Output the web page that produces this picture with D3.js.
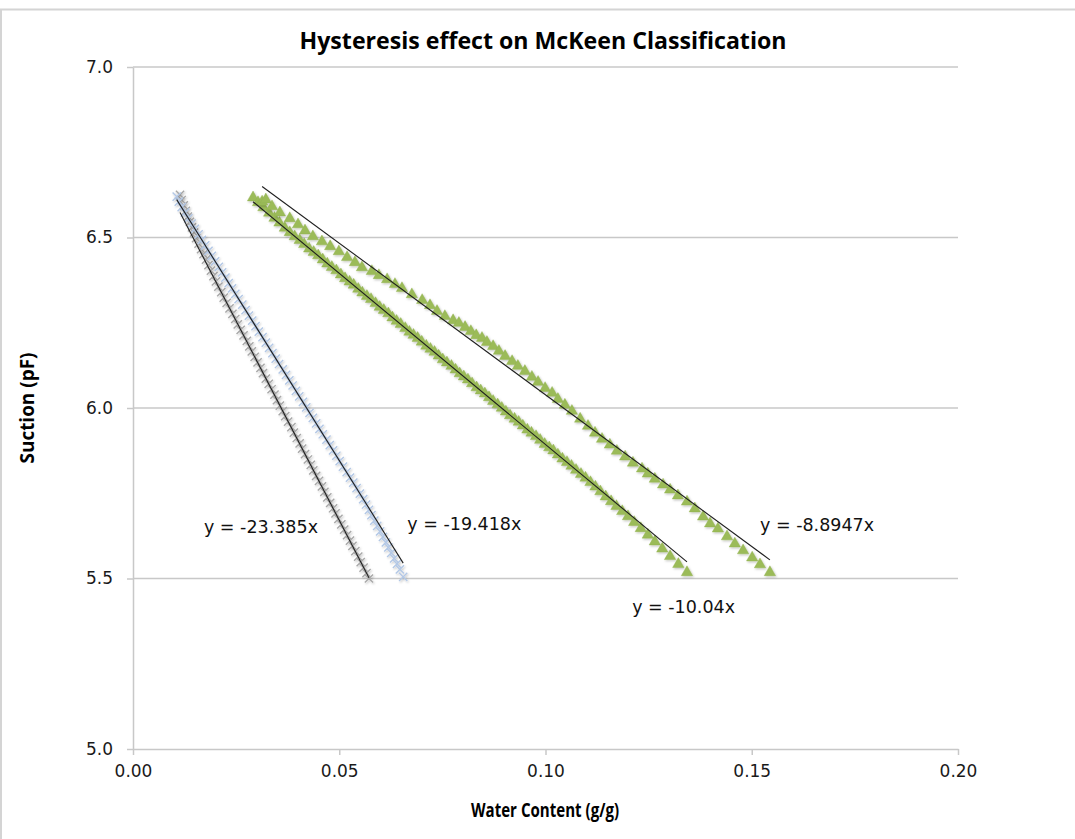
<!DOCTYPE html>
<html><head><meta charset="utf-8">
<script src="https://cdn.jsdelivr.net/npm/d3@7/dist/d3.min.js"></script>
<style>
html,body{margin:0;padding:0;background:#fff;}
svg{display:block;}
</style></head>
<body>
<svg id="chart" width="1075" height="839"></svg>
<script>
// ---------------- data ----------------
const xTicks = [0.00, 0.05, 0.10, 0.15, 0.20];
const yTicks = [5.0, 5.5, 6.0, 6.5, 7.0];
const chartTitle = "Hysteresis effect on McKeen Classification";
const xTitle = "Water Content (g/g)";
const yTitle = "Suction (pF)";

// Series 1 (grey crosses)
const greyX = [0.0114,0.0118,0.0123,0.0128,0.0133,0.0138,0.0143,0.0148,0.0153,0.0159,0.0165,0.0171,0.0177,0.0183,0.0189,0.0195,0.0201,0.0207,0.0214,0.0220,0.0227,0.0234,0.0241,0.0248,0.0254,0.0261,0.0268,0.0276,0.0282,0.0288,0.0295,0.0302,0.0309,0.0315,0.0322,0.0329,0.0336,0.0343,0.0349,0.0356,0.0363,0.0369,0.0376,0.0384,0.0390,0.0397,0.0404,0.0410,0.0417,0.0424,0.0431,0.0437,0.0444,0.0451,0.0458,0.0464,0.0471,0.0478,0.0485,0.0491,0.0498,0.0505,0.0512,0.0519,0.0526,0.0532,0.0539,0.0546,0.0552,0.0559,0.0566,0.0572];
const greyY = [6.625,6.610,6.594,6.578,6.561,6.546,6.530,6.514,6.498,6.482,6.466,6.451,6.435,6.419,6.403,6.387,6.371,6.356,6.340,6.324,6.308,6.292,6.276,6.261,6.245,6.229,6.213,6.197,6.181,6.166,6.150,6.134,6.118,6.102,6.086,6.071,6.055,6.039,6.023,6.007,5.991,5.976,5.960,5.944,5.928,5.912,5.896,5.881,5.865,5.849,5.833,5.817,5.801,5.786,5.770,5.754,5.738,5.722,5.706,5.691,5.675,5.659,5.643,5.627,5.611,5.596,5.580,5.564,5.548,5.532,5.516,5.500];

// Series 2 (light blue crosses)
const blueX = [0.0106,0.0111,0.0118,0.0126,0.0134,0.0142,0.0150,0.0159,0.0167,0.0175,0.0183,0.0191,0.0199,0.0208,0.0216,0.0224,0.0232,0.0240,0.0248,0.0256,0.0265,0.0273,0.0281,0.0289,0.0297,0.0305,0.0314,0.0322,0.0330,0.0338,0.0346,0.0354,0.0363,0.0371,0.0379,0.0387,0.0395,0.0403,0.0412,0.0420,0.0428,0.0436,0.0444,0.0452,0.0460,0.0469,0.0477,0.0485,0.0493,0.0501,0.0509,0.0518,0.0526,0.0534,0.0542,0.0550,0.0558,0.0565,0.0572,0.0578,0.0585,0.0592,0.0599,0.0606,0.0613,0.0619,0.0626,0.0633,0.0640,0.0647,0.0655];
const blueY = [6.620,6.605,6.589,6.573,6.556,6.541,6.525,6.509,6.493,6.477,6.461,6.446,6.430,6.414,6.398,6.382,6.366,6.351,6.335,6.319,6.303,6.287,6.271,6.256,6.240,6.224,6.208,6.192,6.176,6.161,6.145,6.129,6.113,6.097,6.081,6.066,6.050,6.034,6.018,6.002,5.986,5.971,5.955,5.939,5.923,5.907,5.891,5.876,5.860,5.844,5.828,5.812,5.796,5.781,5.765,5.749,5.733,5.717,5.701,5.686,5.670,5.654,5.638,5.622,5.606,5.591,5.575,5.559,5.543,5.527,5.505];

// Series 3 (green triangles, lower path)
const greenLowX = [0.0291,0.0303,0.0316,0.0330,0.0343,0.0355,0.0368,0.0380,0.0392,0.0404,0.0415,0.0427,0.0438,0.0449,0.0460,0.0471,0.0482,0.0493,0.0504,0.0514,0.0525,0.0535,0.0546,0.0556,0.0567,0.0577,0.0588,0.0598,0.0608,0.0619,0.0629,0.0639,0.0649,0.0660,0.0670,0.0680,0.0690,0.0700,0.0711,0.0721,0.0731,0.0741,0.0751,0.0761,0.0772,0.0782,0.0792,0.0802,0.0812,0.0822,0.0833,0.0843,0.0853,0.0863,0.0873,0.0884,0.0894,0.0904,0.0914,0.0925,0.0935,0.0945,0.0956,0.0966,0.0977,0.0987,0.0998,0.1009,0.1019,0.1030,0.1041,0.1052,0.1063,0.1074,0.1086,0.1097,0.1109,0.1121,0.1133,0.1146,0.1159,0.1172,0.1186,0.1200,0.1215,0.1231,0.1248,0.1265,0.1283,0.1302,0.1322,0.1343];
const greenLowY = [6.617,6.603,6.588,6.572,6.557,6.543,6.528,6.515,6.503,6.492,6.480,6.467,6.457,6.447,6.435,6.423,6.413,6.403,6.391,6.380,6.370,6.361,6.349,6.338,6.328,6.319,6.307,6.296,6.287,6.277,6.265,6.255,6.246,6.234,6.223,6.214,6.205,6.194,6.182,6.173,6.164,6.153,6.142,6.133,6.123,6.112,6.101,6.092,6.083,6.072,6.060,6.051,6.042,6.031,6.020,6.010,6.000,5.989,5.978,5.968,5.959,5.948,5.936,5.927,5.917,5.906,5.894,5.884,5.875,5.863,5.851,5.841,5.830,5.818,5.806,5.795,5.782,5.769,5.755,5.740,5.726,5.712,5.697,5.682,5.665,5.647,5.628,5.608,5.587,5.565,5.542,5.518];

// Series 4 (green triangles, upper path)
const greenHighX = [0.0313,0.0322,0.0337,0.0356,0.0380,0.0400,0.0417,0.0436,0.0458,0.0478,0.0499,0.0519,0.0538,0.0555,0.0579,0.0596,0.0616,0.0635,0.0652,0.0676,0.0701,0.0720,0.0737,0.0756,0.0776,0.0790,0.0805,0.0819,0.0832,0.0846,0.0858,0.0873,0.0887,0.0902,0.0919,0.0933,0.0950,0.0967,0.0982,0.0999,0.1016,0.1030,0.1047,0.1064,0.1084,0.1103,0.1120,0.1137,0.1156,0.1173,0.1193,0.1212,0.1234,0.1248,0.1265,0.1285,0.1302,0.1321,0.1343,0.1362,0.1382,0.1399,0.1418,0.1440,0.1459,0.1479,0.1501,0.1520,0.1544];
const greenHighY = [6.605,6.611,6.591,6.573,6.556,6.538,6.520,6.503,6.488,6.474,6.459,6.442,6.427,6.412,6.401,6.389,6.377,6.363,6.351,6.333,6.316,6.301,6.284,6.269,6.257,6.249,6.237,6.225,6.213,6.205,6.193,6.181,6.167,6.152,6.137,6.123,6.108,6.091,6.076,6.058,6.044,6.026,6.009,5.991,5.968,5.947,5.927,5.909,5.892,5.874,5.857,5.839,5.822,5.807,5.792,5.775,5.760,5.743,5.725,5.705,5.681,5.661,5.646,5.623,5.602,5.582,5.561,5.541,5.518];

// Linear trendlines (slope shown on chart, intercept estimated)
const trendSlopes = [-23.385, -19.418, -10.04, -8.8947];
const trendIntercepts = [6.84, 6.817, 6.897, 6.928];
const trendLabels = ["y = -23.385x", "y = -19.418x", "y = -10.04x", "y = -8.8947x"];
// label anchor (data coordinates: left x, baseline y)
const labelX = [0.0172, 0.0665, 0.1210, 0.1520];
const labelY = [5.632, 5.643, 5.398, 5.640];

// ---------------- drawing ----------------
const W = 1075, H = 839;
const svg = d3.select("#chart");
const defs = svg.append("defs");
const f = defs.append("filter").attr("id","shadow").attr("x","-50%").attr("y","-50%").attr("width","200%").attr("height","200%");
f.append("feDropShadow").attr("dx",1).attr("dy",1.2).attr("stdDeviation",0.9).attr("flood-color","#000").attr("flood-opacity",0.25);

// outer chart border
svg.append("rect").attr("x",1).attr("y",9.5).attr("width",W+20).attr("height",H+20)
  .attr("fill","none").attr("stroke","#d4d4d4").attr("stroke-width",2);

const x = d3.scaleLinear().domain([0, 0.2]).range([133, 958]);
const y = d3.scaleLinear().domain([5, 7]).range([749, 67]);

const gridColor = "#c8c8c8";
const tickFont = "'DejaVu Sans', Verdana, sans-serif";

// horizontal gridlines
svg.append("g").selectAll("line").data(yTicks.filter(d => d > 5)).join("line")
  .attr("x1", x(0)).attr("x2", x(0.2))
  .attr("y1", d => y(d)).attr("y2", d => y(d))
  .attr("stroke", gridColor).attr("stroke-width", 1.5);

// y axis
const yAxis = svg.append("g").attr("transform", `translate(${x(0)},0)`)
  .call(d3.axisLeft(y).tickValues(yTicks).tickFormat(d3.format(".1f")).tickSizeInner(6).tickSizeOuter(0).tickPadding(14));
yAxis.select(".domain").attr("stroke", gridColor).attr("stroke-width", 1.5);
yAxis.selectAll(".tick line").attr("stroke", gridColor).attr("stroke-width", 1.5);
yAxis.selectAll(".tick text").attr("font-family", tickFont).attr("font-size", 17).attr("fill", "#1a1a1a");

// x axis
const xAxis = svg.append("g").attr("transform", `translate(0,${y(5)})`)
  .call(d3.axisBottom(x).tickValues(xTicks).tickFormat(d3.format(".2f")).tickSizeInner(6).tickSizeOuter(0).tickPadding(10));
xAxis.select(".domain").attr("stroke", gridColor).attr("stroke-width", 1.5);
xAxis.selectAll(".tick line").attr("stroke", gridColor).attr("stroke-width", 1.5);
xAxis.selectAll(".tick text").attr("font-family", tickFont).attr("font-size", 17).attr("fill", "#1a1a1a");

// series
function zip(a, b) { return a.map((v, i) => [v, b[i]]); }
const series = [
  {pts: zip(greyX, greyY), type: "x", color: "#a8a8a8"},
  {pts: zip(blueX, blueY), type: "x", color: "#b3c8e6"},
  {pts: zip(greenLowX, greenLowY), type: "tri", color: "#9bbb59"},
  {pts: zip(greenHighX, greenHighY), type: "tri", color: "#9bbb59"}
];
const xSym = d3.symbol().type(d3.symbolX).size(46);
const triSym = d3.symbol().type(d3.symbolTriangle).size(56);

series.forEach(s => {
  const g = svg.append("g").attr("filter", "url(#shadow)");
  if (s.type === "x") {
    g.selectAll("path").data(s.pts).join("path")
      .attr("d", xSym)
      .attr("transform", d => `translate(${x(d[0])},${y(d[1])})`)
      .attr("fill", "none").attr("stroke", s.color).attr("stroke-width", 1.4);
  } else {
    g.selectAll("path").data(s.pts).join("path")
      .attr("d", triSym)
      .attr("transform", d => `translate(${x(d[0])},${y(d[1])})`)
      .attr("fill", s.color).attr("stroke", "#8fb04e").attr("stroke-width", 0.4);
  }
});

// trendlines (over the data extent)
series.forEach((s, i) => {
  const ext = d3.extent(s.pts, d => d[0]);
  const line = d3.line().x(d => x(d)).y(d => y(trendIntercepts[i] + trendSlopes[i] * d));
  svg.append("path").datum(ext).attr("d", line)
    .attr("fill", "none").attr("stroke", "#1e1e1e").attr("stroke-width", 1.1);
});

// trendline labels
svg.append("g").selectAll("text").data(trendLabels).join("text")
  .attr("x", (d, i) => x(labelX[i])).attr("y", (d, i) => y(labelY[i]))
  .attr("font-family", tickFont).attr("font-size", 17.5).attr("fill", "#111")
  .text(d => d);

// titles
const boldFont = "'Liberation Sans Narrow', 'Open Sans', 'Liberation Sans', sans-serif";
svg.append("text").attr("x", 543).attr("y", 49).attr("text-anchor", "middle")
  .attr("font-family", boldFont).attr("font-weight", "bold").attr("font-size", 24)
  .attr("textLength", 487).attr("lengthAdjust", "spacingAndGlyphs")
  .text(chartTitle);
svg.append("text").attr("x", 545).attr("y", 817).attr("text-anchor", "middle")
  .attr("font-family", boldFont).attr("font-weight", "bold").attr("font-size", 19)
  .attr("textLength", 148).attr("lengthAdjust", "spacingAndGlyphs")
  .text(xTitle);
svg.append("text").attr("transform", "translate(34,408) rotate(-90)").attr("text-anchor", "middle")
  .attr("font-family", boldFont).attr("font-weight", "bold").attr("font-size", 19)
  .attr("textLength", 111).attr("lengthAdjust", "spacingAndGlyphs")
  .text(yTitle);
</script>
</body></html>
